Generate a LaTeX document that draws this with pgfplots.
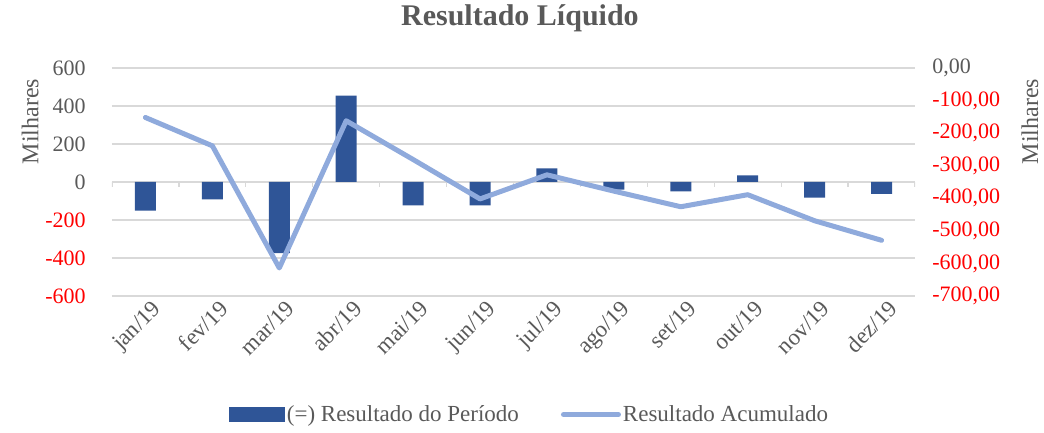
\documentclass[border=0pt]{standalone}
\usepackage{pgfplots}
\pgfplotsset{compat=1.18}
\usepackage{fontspec}
\setmainfont{Liberation Serif}
\definecolor{barblue}{HTML}{2F5597}
\definecolor{lineblue}{HTML}{8FAADC}
\definecolor{gridgray}{HTML}{D9D9D9}
\definecolor{txtgray}{HTML}{595959}
\definecolor{negred}{HTML}{FF0000}
\begin{document}
\begin{tikzpicture}
\useasboundingbox (-56pt,-68.5pt) rectangle (466pt,148pt);
\begin{axis}[
  scale only axis, width=401.5pt, height=114pt,
  xmin=-0.5, xmax=11.5, ymin=-600, ymax=600,
  axis line style={draw=none}, major tick length=0pt,
  ytick={-600,-400,-200,0,200,400,600},
  yticklabels={\textcolor{negred}{-600},\textcolor{negred}{-400},\textcolor{negred}{-200},0,200,400,600},
  yticklabel style={font=\fontsize{11}{13}\selectfont, text=txtgray, inner sep=0pt, xshift=-13pt},
  xtick={0,...,11},
  xticklabels={jan/19,fev/19,mar/19,abr/19,mai/19,jun/19,jul/19,ago/19,set/19,out/19,nov/19,dez/19},
  xticklabel style={font=\fontsize{11.5}{13}\selectfont, text=txtgray, rotate=45, anchor=north east, inner sep=1pt, xshift=2pt, yshift=-2pt},
  ymajorgrids, grid style={gridgray, line width=0.6pt},
  ylabel={Milhares},
  ylabel style={at={(axis description cs:-0.102,0.765)}, anchor=center, font=\fontsize{12}{14}\selectfont, text=txtgray},
  every axis title shift=0pt,
  title={Resultado Líquido},
  title style={at={(axis description cs:0.508,1.22)}, anchor=center, font=\fontsize{15}{17}\selectfont\bfseries, text=txtgray},
]
\draw[gridgray, line width=0.6pt] (axis cs:-0.5,0) -- (axis cs:11.5,0);
\pgfplotsinvokeforeach{-0.5,0.5,1.5,2.5,3.5,4.5,5.5,6.5,7.5,8.5,9.5,10.5,11.5}{
  \draw[gridgray, line width=0.6pt] (axis cs:#1,0) -- ++(0pt,-2.5pt);
}
\addplot[ybar, bar width=10.5pt, fill=barblue, draw=none] coordinates {
(0,-151) (1,-91) (2,-374) (3,454) (4,-123) (5,-123) (6,72) (7,-40) (8,-50) (9,35) (10,-82) (11,-62)
};
\end{axis}
\begin{axis}[
  scale only axis, width=401.5pt, height=114pt,
  xmin=-0.5, xmax=11.5, ymin=-700, ymax=0,
  axis y line*=right, hide x axis,
  axis line style={draw=none}, major tick length=0pt,
  ytick={-700,-600,-500,-400,-300,-200,-100,0},
  yticklabels={\textcolor{negred}{-700,00},\textcolor{negred}{-600,00},\textcolor{negred}{-500,00},\textcolor{negred}{-400,00},\textcolor{negred}{-300,00},\textcolor{negred}{-200,00},\textcolor{negred}{-100,00},{0,00}},
  yticklabel style={font=\fontsize{11}{13}\selectfont, text=txtgray, anchor=west, inner sep=0pt, xshift=8.5pt},
  ylabel={Milhares},
  ylabel style={at={(axis description cs:1.143,0.765)}, anchor=center, rotate=0, font=\fontsize{12}{14}\selectfont, text=txtgray},
  legend style={at={(axis description cs:0.52,-0.52)}, anchor=center, draw=none, fill=none,
    legend columns=2, font=\fontsize{11.5}{13}\selectfont, text=txtgray,
    /tikz/every even column/.append style={column sep=20pt},
    nodes={inner sep=1pt}},
]
\addlegendimage{legend image code/.code={\fill[barblue] (0pt,-3.5pt) rectangle (27.5pt,3.5pt);}}
\addlegendentry{(=) Resultado do Período}
\addplot[lineblue, line width=2.5pt, line join=round, line cap=round, mark=none,
  legend image code/.code={\draw[lineblue, line width=2.5pt, line cap=round] (0pt,0pt) -- (27.5pt,0pt);}] coordinates {
(0,-152) (1,-239) (2,-614) (3,-162) (4,-281) (5,-402) (6,-328) (7,-378) (8,-426) (9,-389) (10,-469) (11,-529)
};
\addlegendentry{Resultado Acumulado}
\end{axis}
\end{tikzpicture}
\end{document}
